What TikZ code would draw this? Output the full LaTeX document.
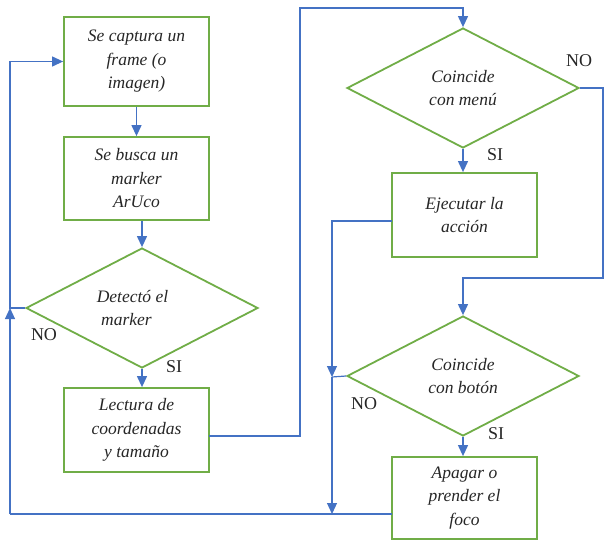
\documentclass[tikz,border=0pt]{standalone}
\usepackage{fontspec}
\setmainfont{Liberation Serif}
\usetikzlibrary{shapes.geometric,arrows.meta}
\definecolor{boxgreen}{HTML}{70AD47}
\definecolor{lineblue}{HTML}{4472C4}
\definecolor{txt}{HTML}{262626}
\begin{document}
\begin{tikzpicture}[x=1pt,y=-1pt,
  procbox/.style={draw=boxgreen,line width=1.8pt,minimum width=145pt,minimum height=84pt,inner sep=0pt,align=center,
     font=\fontsize{17.5}{23.5}\selectfont\itshape,text=txt},
  decbox/.style={draw=boxgreen,line width=1.8pt,shape=diamond,minimum width=232pt,minimum height=120pt,inner sep=0pt,aspect=2,align=center,
     font=\fontsize{17.5}{23.5}\selectfont\itshape,text=txt},
  conn/.style={draw=lineblue,line width=1.2pt},
  arr/.style={conn,-{Triangle[length=11pt,width=10pt]}},
  lbl/.style={font=\fontsize{18}{20}\selectfont,text=txt,inner sep=0pt}]
\useasboundingbox (0,0) rectangle (605,540);
% nodes
\node[procbox,minimum height=89pt] (b1) at (136.5,61.5) {Se captura un\\frame (o\\imagen)};
\node[procbox,minimum height=83pt] (b2) at (136.5,178.5) {Se busca un\\marker\\ArUco};
\node[decbox] (d1) at (142,308) {Detectó el\hspace*{19pt}\\marker\hspace*{31pt}};
\node[procbox,minimum height=84pt] (b3) at (136.5,430) {Lectura de\\coordenadas\\y tamaño};
\node[decbox] (d2) at (463,88) {Coincide\\con menú};
\node[procbox,minimum height=84pt] (b4) at (464.5,215) {Ejecutar la\\acción};
\node[decbox] (d3) at (463,376) {Coincide\\con botón};
\node[procbox,minimum height=82pt] (b5) at (464.5,498) {Apagar o\\prender el\\foco};
% labels
\node[lbl] (n1) at (44,335) {NO};
\node[lbl] (s1) at (174,367) {SI};
\node[lbl] (n2) at (579,61) {NO};
\node[lbl] (s2) at (495,155) {SI};
\node[lbl] (n3) at (364,404) {NO};
\node[lbl] (s3) at (496,434) {SI};
% coordinates
\coordinate (L) at (10,308);
\coordinate (BL) at (10,514);
\coordinate (c5) at (392,514);
\coordinate (c3) at (209,436);
\coordinate (T1) at (300,8);
\coordinate (R1) at (603,278);
\coordinate (c4) at (392,221);
\coordinate (M) at (332,377);
\coordinate (MB) at (332,514);
% connectors
\draw[arr] (b1.south) -- (b2.north);
\draw[arr] (d1.north |- b2.south) -- (d1.north);
\draw[arr] (d1.south) -- (d1.south |- b3.north);
\draw[arr] (d1.west) -- (L) |- (b1.west);
\draw[conn] (c5) -- (BL);
\draw[arr] (BL) -- (L);
\draw[arr] (c3) -| (T1) -| (d2.north);
\draw[arr] (d2.east) -| (R1) -| (d3.north);
\draw[arr] (d2.south) -- (d2.south |- b4.north);
\draw[arr] (c4) -| (M);
\draw[conn] (d3.west) -- (M);
\draw[arr] (M) -- (MB);
\draw[arr] (d3.south) -- (d3.south |- b5.north);
\end{tikzpicture}
\end{document}
